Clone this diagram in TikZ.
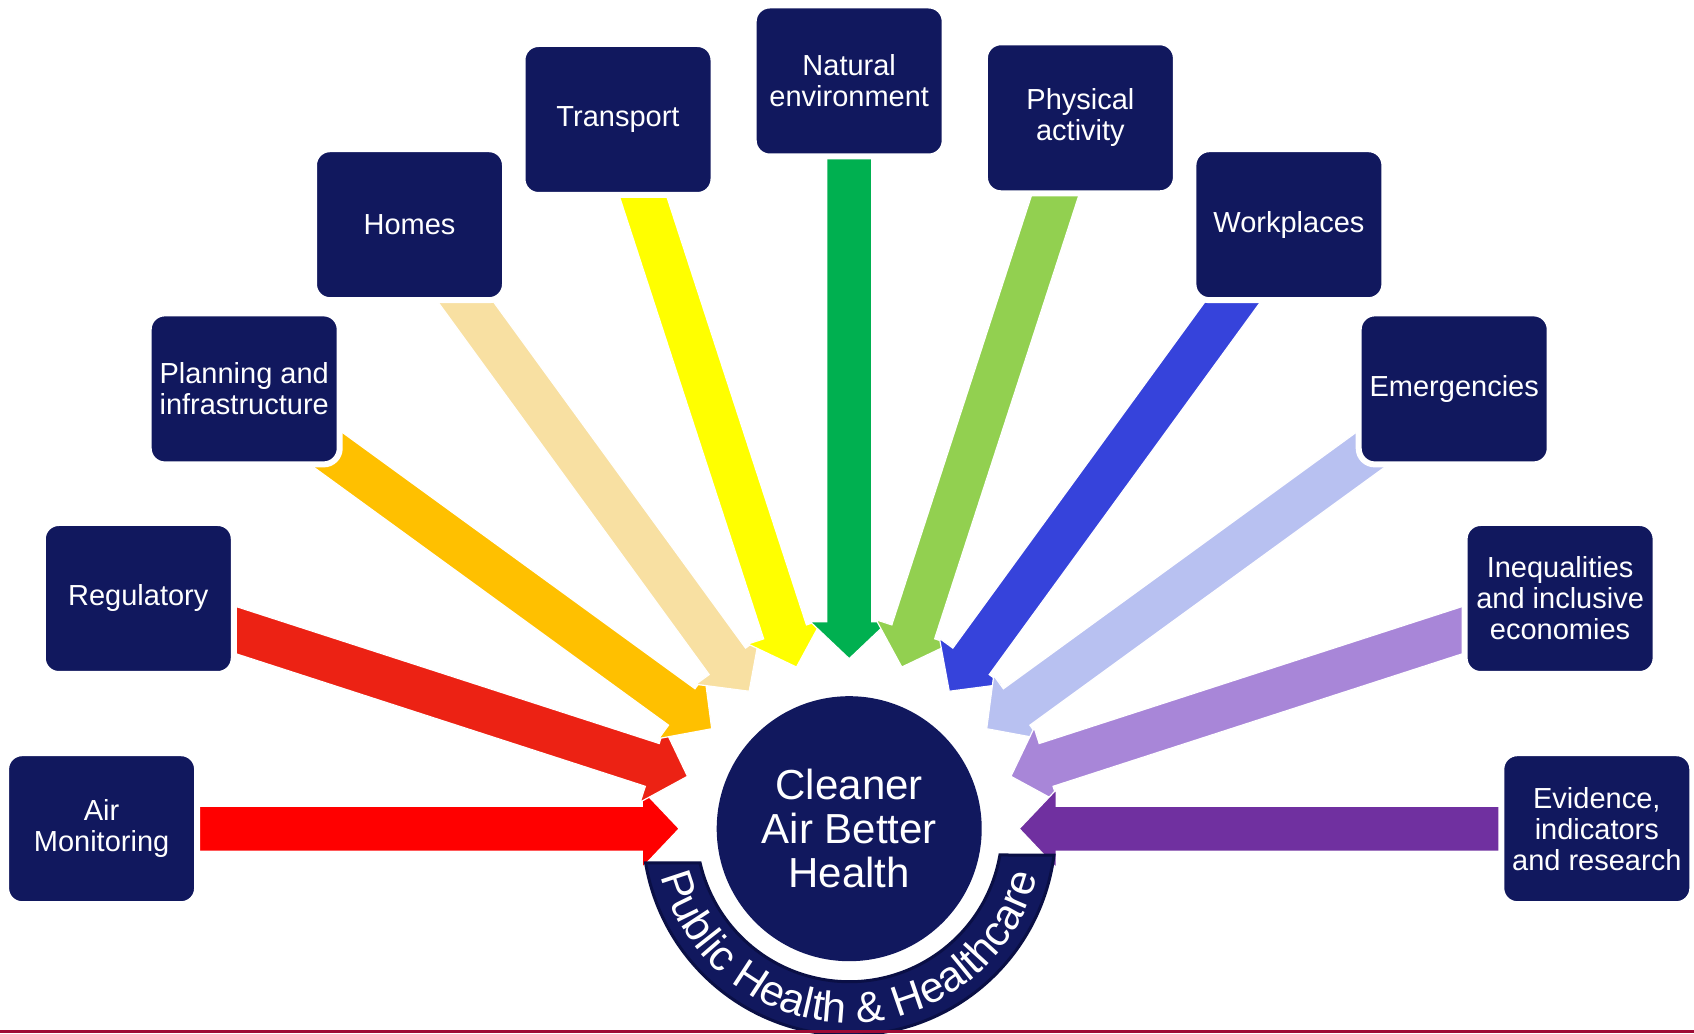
\documentclass[tikz,border=0pt]{standalone}
\usepackage{fontspec}
\setmainfont{Liberation Sans}
\usetikzlibrary{calc,decorations.text}
\pgfdeclarelayer{back}
\pgfdeclarelayer{bg}
\pgfsetlayers{back,bg,main}
\definecolor{navy}{HTML}{11185E}
\definecolor{navyedge}{HTML}{0A0F45}
\definecolor{cAir}{HTML}{FF0000}
\definecolor{cReg}{HTML}{EC2214}
\definecolor{cPlan}{HTML}{FFC000}
\definecolor{cHome}{HTML}{F8E0A2}
\definecolor{cTrans}{HTML}{FFFF00}
\definecolor{cNat}{HTML}{00B050}
\definecolor{cPhys}{HTML}{92D050}
\definecolor{cWork}{HTML}{3643DB}
\definecolor{cEmer}{HTML}{B8C1F1}
\definecolor{cIneq}{HTML}{A886D8}
\definecolor{cEvid}{HTML}{7030A0}
\definecolor{maroonline}{HTML}{9E0B35}
\newcommand{\flowarrow}[2]{%
  \coordinate (ht) at ($(C)!170pt!(#1.center)$);
  \coordinate (hb) at ($(C)!207pt!(#1.center)$);
  \fill[#2, draw=white, line width=1.2pt, line join=miter]
    ($(#1.center)!22.5pt!90:(C)$) -- ($(hb)!22.5pt!-90:(#1.center)$) --
    ($(hb)!39pt!-90:(#1.center)$) -- (ht) -- ($(hb)!39pt!90:(#1.center)$) --
    ($(hb)!22.5pt!90:(#1.center)$) -- ($(#1.center)!22.5pt!-90:(C)$) -- cycle;
}
\begin{document}
\begin{tikzpicture}[x=1pt,y=1pt,
  box/.style={rectangle, rounded corners=16pt, fill=navy, draw=white,
    line width=6pt, minimum width=191pt, minimum height=151pt,
    text=white, align=center, inner sep=0pt,
    font=\fontsize{29}{31}\selectfont},
  hub/.style={circle, fill=navy, minimum size=265pt, inner sep=0pt,
    text=white, align=center, font=\fontsize{42}{44}\selectfont}]
\useasboundingbox (0,0) rectangle (1694,1033);
\begin{pgfonlayer}{back}
\fill[white] (0,0) rectangle (1694,1033);
\end{pgfonlayer}
\coordinate (C) at (849.2,204.3);

\node[box] (b1) at (101.6,204.3) {Air\\Monitoring};
\node[box] (b2) at (138.3,434.5) {Regulatory};
\node[box] (b3) at (244.2,644.1) {Planning and\\infrastructure};
\node[box] (b4) at (409.5,808.3) {Homes};
\node[box] (b5) at (618.0,913.5) {Transport};
\node[box] (b6) at (849.2,952.0) {Natural\\environment};
\node[box] (b7) at (1080.4,915.2) {Physical\\activity};
\node[box] (b8) at (1288.9,808.3) {Workplaces};
\node[box] (b9) at (1454.2,644.1) {Emergencies};
\node[box] (b10) at (1560.1,434.5) {Inequalities\\and inclusive\\economies};
\node[box] (b11) at (1596.8,204.3) {Evidence,\\indicators\\and research};

\node[hub] (hub) at (C) {Cleaner\\Air Better\\Health};

% band
\fill[navy, draw=navyedge, line width=3pt]
  ($(C)+(189.56:206.5pt)$) arc[start angle=189.56, end angle=352.68, radius=206.5pt]
  -- ($(C)+(350.1:153pt)$) arc[start angle=350.1, end angle=192.95, radius=153pt]
  -- cycle;
\path[decorate, decoration={text along path, text align=center,
  text={|\fontsize{43}{43}\selectfont\color{white}|Public Health {\&} Healthcare}}]
  ($(C)+(190:194pt)$) arc[start angle=190, end angle=350, radius=194pt];

\begin{pgfonlayer}{bg}
\flowarrow{b1}{cAir}
\flowarrow{b2}{cReg}
\flowarrow{b3}{cPlan}
\flowarrow{b4}{cHome}
\flowarrow{b5}{cTrans}
\flowarrow{b6}{cNat}
\flowarrow{b7}{cPhys}
\flowarrow{b8}{cWork}
\flowarrow{b9}{cEmer}
\flowarrow{b10}{cIneq}
\flowarrow{b11}{cEvid}
\end{pgfonlayer}

\fill[maroonline] (0,0) rectangle (1694,2.5);
\end{tikzpicture}
\end{document}
